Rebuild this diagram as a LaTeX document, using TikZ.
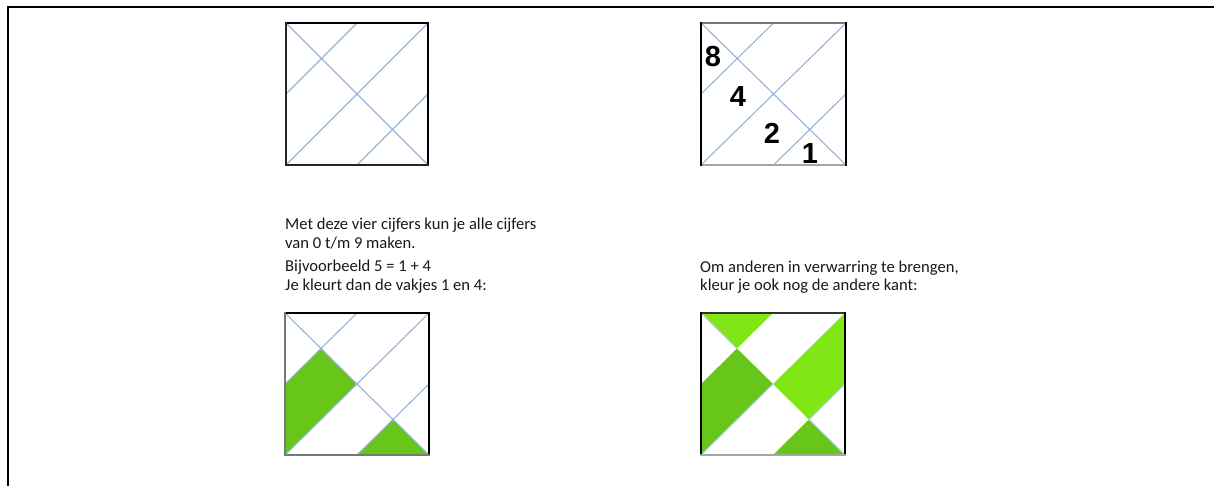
\documentclass[tikz,border=0pt]{standalone}
\usepackage{fontspec}
\setmainfont{Carlito}
\newfontfamily\digitfont{Liberation Sans}
\definecolor{gridblue}{RGB}{150,178,220}
\definecolor{darkgreen}{RGB}{104,198,26}
\definecolor{lightgreen}{RGB}{128,230,22}
\definecolor{edgegrey}{RGB}{120,120,120}
\definecolor{edgelight}{RGB}{165,165,165}
\tikzset{
  gridline/.style={draw=gridblue, line width=1.1pt},
  edge/.style={line width=1.8pt, line cap=rect},
  digit/.style={font=\digitfont\bfseries\fontsize{29}{29}\selectfont, inner sep=0pt},
  body/.style={font=\fontsize{16.6}{19}\selectfont, inner sep=0pt, anchor=base west, text=black!90},
  pdark/.style={fill=darkgreen},
  plight/.style={fill=lightgreen}
}
\newcommand{\tilegrid}{%
  \draw[gridline] (0,0) -- (1,1);
  \draw[gridline] (0,1) -- (1,0);
  \draw[gridline] (0.5,0) -- (0,0.5);
  \draw[gridline] (1,0.5) -- (0.5,1);
}
\begin{document}
\begin{tikzpicture}[x=1pt,y=-1pt]
\useasboundingbox (0,0) rectangle (1214,486);
\fill[white] (0,0) rectangle (1214,486);
% page frame
\draw[line width=2.2pt] (8,486) -- (8,7) -- (1214,7);

% square 1 (top left)
\begin{scope}[xshift=286pt, yshift=-23pt, x=142pt, y=-142pt]
  \tilegrid
  \draw[edge] (0,0) -- (1,0) -- (1,1);
  \draw[edge, draw=black!85] (1,1) -- (0,1) -- (0,0);
\end{scope}

% square 2 (top right, with digits)
\begin{scope}[xshift=701pt, yshift=-23pt, x=145pt, y=-142pt]
  \tilegrid
  \draw[edge, draw=edgegrey] (0,0) -- (1,0);
  \draw[edge, draw=edgelight] (0,1) -- (1,1);
  \draw[edge] (0,0) -- (0,1);
  \draw[edge] (1,0) -- (1,1);
\end{scope}
\node[digit] (d8) at (713,57) {8};
\node[digit] (d4) at (738,97) {4};
\node[digit] (d2) at (772,133) {2};
\node[digit] (d1) at (810,154) {1};

% text block 1
\node[body] (t1a) at (285,229.5) {Met deze vier cijfers kun je alle cijfers};
\node[body] (t1b) at (285,248.5) {van 0 t/m 9 maken.};
\node[body] (t1c) at (285,271.5) {Bijvoorbeeld 5 = 1 + 4};
\node[body] (t1d) at (285,290.5) {Je kleurt dan de vakjes 1 en 4:};
% text block 2
\node[body] (t2a) at (700,272) {Om anderen in verwarring te brengen,};
\node[body] (t2b) at (700,290.5) {kleur je ook nog de andere kant:};

% square 3 (bottom left, 1 + 4)
\begin{scope}[xshift=285pt, yshift=-313pt, x=144pt, y=-142pt]
  \fill[pdark] (0,0.5) -- (0.25,0.25) -- (0.5,0.5) -- (0,1) -- cycle;
  \fill[pdark] (0.5,1) -- (0.75,0.75) -- (1,1) -- cycle;
  \tilegrid
  \draw[edge] (0,0) -- (1,0) -- (1,1);
  \draw[edge, draw=edgegrey] (1,1) -- (0,1) -- (0,0);
\end{scope}

% square 4 (bottom right, both sides)
\begin{scope}[xshift=701pt, yshift=-313pt, x=144pt, y=-142pt]
  \fill[pdark] (0,0.5) -- (0.25,0.25) -- (0.5,0.5) -- (0,1) -- cycle;
  \fill[pdark] (0.5,1) -- (0.75,0.75) -- (1,1) -- cycle;
  \fill[plight] (0,0) -- (0.5,0) -- (0.25,0.25) -- cycle;
  \fill[plight] (0.5,0.5) -- (1,0) -- (1,0.5) -- (0.75,0.75) -- cycle;
  \draw[gridline, draw=gridblue!70] (0,0) -- (0.25,0.25);
  \draw[gridline, draw=gridblue!70] (0,1) -- (0.5,0.5);
  \draw[gridline, draw=gridblue!70] (1,0.5) -- (0.75,0.75);
  \draw[gridline, draw=gridblue!70] (0.75,0.75) -- (1,1);
  \draw[edge, draw=black!80] (0,0) -- (1,0);
  \draw[edge] (0,0) -- (0,1);
  \draw[edge, line width=2.4pt] (1,0) -- (1,1);
  \draw[edge, draw=edgelight] (0,1) -- (1,1);
\end{scope}
\end{tikzpicture}
\end{document}
